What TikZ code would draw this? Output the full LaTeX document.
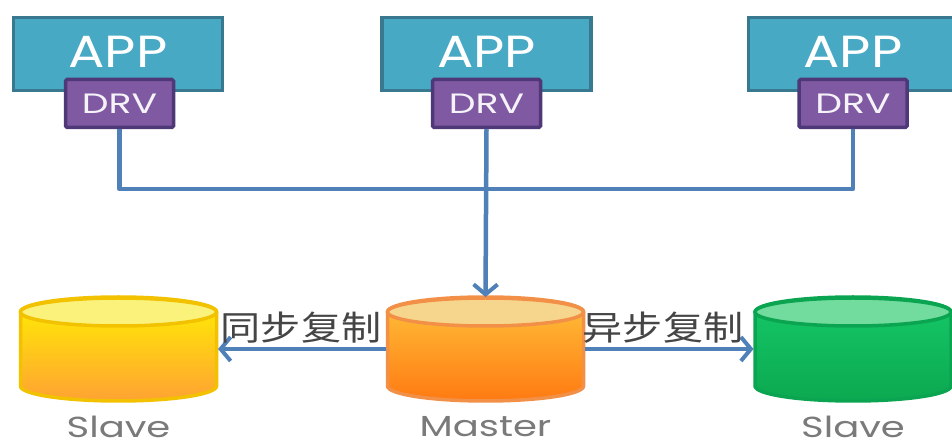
\documentclass[tikz,border=0pt]{standalone}
\usepackage{fontspec}
\usetikzlibrary{arrows.meta}
\setmainfont{Poppins}
\newfontfamily\cjkfont{Noto Sans CJK SC}
\definecolor{appfill}{HTML}{47A9C4}
\definecolor{appline}{HTML}{39798F}
\definecolor{drvfill}{HTML}{8059A3}
\definecolor{drvline}{HTML}{4E3878}
\definecolor{wire}{HTML}{4F81B8}
\definecolor{labelgray}{HTML}{7A7A7A}
\definecolor{cjkgray}{HTML}{454545}
\definecolor{ytop}{HTML}{FFF000}
\definecolor{ybot}{HTML}{FFA233}
\definecolor{yline}{HTML}{F2C200}
\definecolor{ylid}{HTML}{FBF27C}
\definecolor{mtop}{HTML}{FFC23A}
\definecolor{mbot}{HTML}{FF7A12}
\definecolor{mline}{HTML}{F29048}
\definecolor{mlid}{HTML}{F6D68C}
\definecolor{gtop}{HTML}{14C968}
\definecolor{gbot}{HTML}{0CA850}
\definecolor{gline}{HTML}{0BA552}
\definecolor{glid}{HTML}{72DC9E}
\newcommand{\dbcyl}[7]{%
  % name, centre x, top colour, bottom colour, border, lid, caption
  \path[draw=#5, line width=3.5pt, top color=#3, bottom color=#4]
    (#2pt-98pt,132pt) -- (#2pt-98pt,58pt)
    arc[start angle=180,end angle=360,x radius=98pt,y radius=15pt]
    -- (#2pt+98pt,132pt)
    arc[start angle=0,end angle=180,x radius=98pt,y radius=15pt] -- cycle;
  \path[draw=#5, line width=3.5pt, fill=#6]
    (#2pt,132pt) ellipse[x radius=98pt,y radius=14pt];
  \node[dbanchor] (#1) at (#2pt,95pt) {};
  \node[dbname] at (#2pt,17pt) {\scalebox{1.33}[1]{#7}};
}
\tikzset{
  appbox/.style={draw=appline, fill=appfill, line width=3.5pt, minimum width=209pt, minimum height=73pt, inner sep=0pt, text=white, font=\fontsize{45}{45}\selectfont},
  drvbox/.style={draw=drvline, fill=drvfill, line width=3.5pt, rounded corners=1.5pt, minimum width=108pt, minimum height=48pt, inner sep=0pt, text=white!92!drvfill, font=\fontsize{28}{28}\selectfont},
  dbanchor/.style={minimum width=199pt, minimum height=104pt, inner sep=0pt, outer sep=0pt},
  dbname/.style={text=labelgray, font=\fontsize{29}{29}\selectfont, inner sep=0pt},
  cjklabel/.style={text=cjkgray, inner sep=0pt},
  wireline/.style={draw=wire, line width=4.5pt},
  wirearrow/.style={wireline, -{Straight Barb[length=10pt,width=24pt,line width=4pt]}}
}
\begin{document}
\begin{tikzpicture}[x=1pt,y=1pt]
\useasboundingbox (0,0) rectangle (952,444);
\clip (0,0) rectangle (952,444);
\node[appbox] (a1) at (118,390) {\raisebox{4pt}{\scalebox{1.2}[1]{APP}}};
\node[appbox] (a2) at (486.5,390) {\raisebox{4pt}{\scalebox{1.2}[1]{APP}}};
\node[appbox] (a3) at (853,390) {\raisebox{4pt}{\scalebox{1.2}[1]{APP}}};
\coordinate (bus) at (486.5,255);
\node[drvbox] (d1) at (119.5,340.5) {\scalebox{1.35}[1]{DRV}};
\node[drvbox] (d2) at (486.5,340.5) {\scalebox{1.35}[1]{DRV}};
\node[drvbox] (d3) at (853,340.5) {\scalebox{1.35}[1]{DRV}};
\draw[wireline, line join=round] (d1.south) |- (bus);
\draw[wireline, line join=round] (d3.south) |- (bus);
\dbcyl{s1}{118.5}{ytop}{ybot}{yline}{ylid}{Slave}
\dbcyl{m}{485.5}{mtop}{mbot}{mline}{mlid}{Master}
\dbcyl{s2}{853}{gtop}{gbot}{gline}{glid}{Slave}
\draw[wirearrow] (d2.south) -- (m.north);
\draw[wirearrow] (m.west) -- (s1.east);
\draw[wirearrow] (m.east) -- (s2.west);
\node[cjklabel] (l1) at (301,116) {\scalebox{1.18}[1]{\fontsize{34}{34}\cjkfont 同步复制}};
\node[cjklabel] (l2) at (663,116) {\scalebox{1.18}[1]{\fontsize{34}{34}\cjkfont 异步复制}};
\end{tikzpicture}
\end{document}
